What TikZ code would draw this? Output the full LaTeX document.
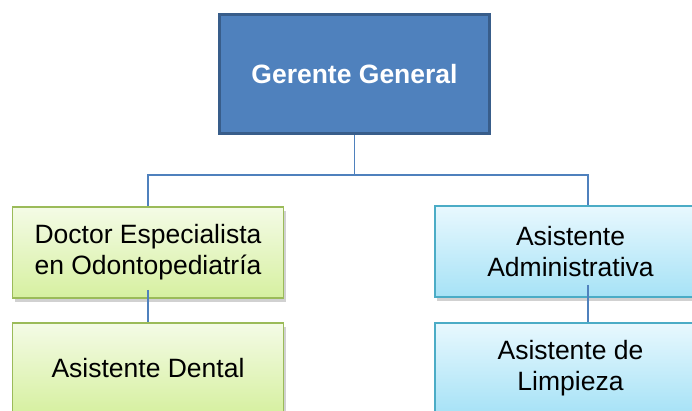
\documentclass[tikz,border=0pt]{standalone}
\usepackage{fontspec}
\setmainfont{Liberation Sans}
\usetikzlibrary{shadows}
\definecolor{ggfill}{HTML}{4F81BD}
\definecolor{ggdraw}{HTML}{385D8A}
\definecolor{conn}{HTML}{4F81BD}
\definecolor{gtop}{HTML}{F4FBE6}
\definecolor{gbot}{HTML}{D6F0A0}
\definecolor{gdraw}{HTML}{9BBB59}
\definecolor{btop}{HTML}{E8F8FE}
\definecolor{bbot}{HTML}{A6E2F6}
\definecolor{bdraw}{HTML}{4BACC6}
\tikzset{
  boxbase/.style={rectangle, inner sep=0pt, align=center, font=\fontsize{26.5}{31}\selectfont,
    drop shadow={shadow xshift=2pt, shadow yshift=-4pt, opacity=0.3, fill=black!60}},
  greenbox/.style={boxbase, draw=gdraw, line width=1.5pt, top color=gtop, bottom color=gbot},
  bluebox/.style={boxbase, draw=bdraw, line width=1.5pt, top color=btop, bottom color=bbot},
  topbox/.style={rectangle, inner sep=0pt, align=center, fill=ggfill, draw=ggdraw, line width=3.5pt,
    text=white, font=\bfseries\fontsize{26.5}{31}\selectfont},
  link/.style={draw=conn, line width=1.6pt}
}
\begin{document}
\begin{tikzpicture}[x=1pt,y=-1pt]
\useasboundingbox (0,0) rectangle (692,411);
\node[topbox, minimum width=270pt, minimum height=119pt] (gg) at (354.5,74) {Gerente General};
\node[greenbox, minimum width=271pt, minimum height=91pt] (doc) at (148,252.5) {Doctor Especialista\\en Odontopediatría};
\node[greenbox, minimum width=271pt, minimum height=91pt] (asd) at (148,368.5) {Asistente Dental};
\node[bluebox, minimum width=271pt, minimum height=91pt] (adm) at (570.5,251.5) {Asistente\\Administrativa};
\node[bluebox, minimum width=271pt, minimum height=91pt] (lim) at (570.5,368.5) {Asistente de\\Limpieza};
\coordinate (j) at (354.5,175);
\draw[link] (gg.south) -- (j);
\draw[link] (j) -| (doc.north);
\draw[link] (j) -| ([xshift=17.5pt]adm.north);
\draw[link] ([yshift=9pt]doc.south) -- (asd.north);
\draw[link] ([xshift=17.5pt,yshift=13pt]adm.south) -- ([xshift=17.5pt]lim.north);
\end{tikzpicture}
\end{document}
